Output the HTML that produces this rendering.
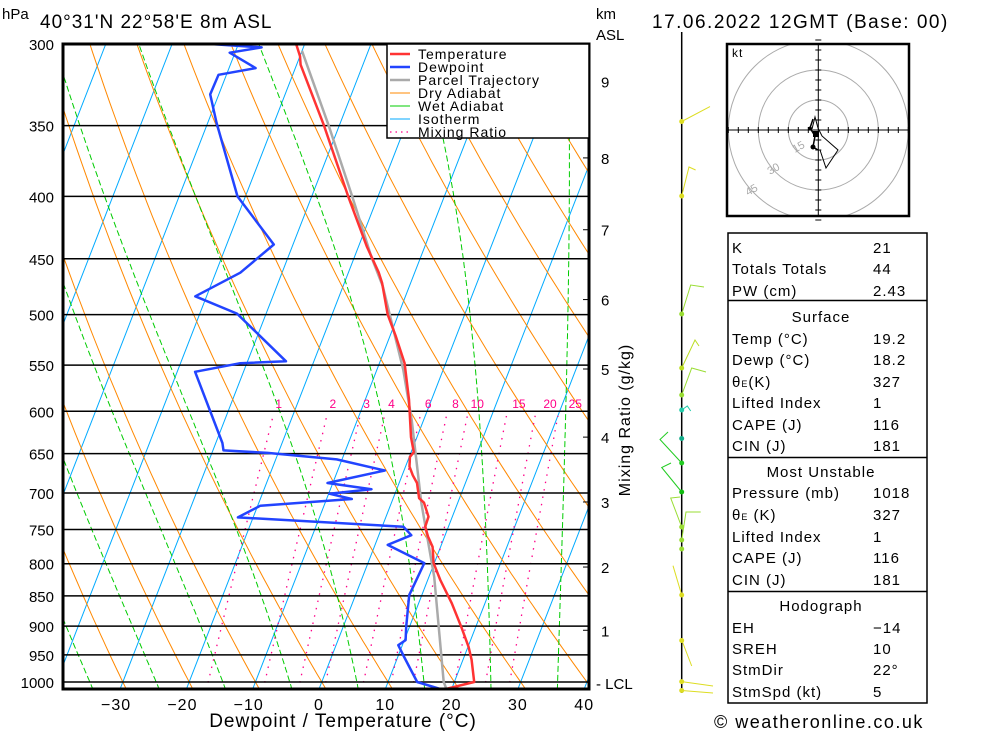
<!DOCTYPE html>
<html><head><meta charset="utf-8">
<style>
html,body{margin:0;padding:0;background:#fff;}
svg{display:block;font-family:"Liberation Sans",sans-serif;}
.t{font-size:15px;letter-spacing:1px;fill:#000;}
</style></head>
<body>
<svg id="chart" width="1000" height="733" viewBox="0 0 1000 733" xmlns="http://www.w3.org/2000/svg">
<defs><clipPath id="plotclip"><rect x="63" y="44" width="526" height="645"/></clipPath></defs>
<rect x="0" y="0" width="1000" height="733" fill="#fff"/>
<text x="2" y="19" font-size="15">hPa</text>
<text x="40" y="28" font-size="19" letter-spacing="1">40°31'N  22°58'E  8m  ASL</text>
<text x="652" y="28" font-size="19" letter-spacing="1.5">17.06.2022  12GMT  (Base:  00)</text>
<text x="596" y="19" font-size="15">km</text>
<text x="596" y="40" font-size="15">ASL</text>
<g id="grid" clip-path="url(#plotclip)"></g>
<g id="plines"></g>
<g id="series" clip-path="url(#plotclip)"></g>
<g id="labels"></g>
<rect x="63" y="44" width="526" height="645" fill="none" stroke="#000" stroke-width="3"/>
<text x="343" y="727" font-size="19" text-anchor="middle" letter-spacing="1">Dewpoint / Temperature (°C)</text>
<text transform="translate(630,420) rotate(-90)" font-size="16" text-anchor="middle" letter-spacing="1">Mixing Ratio (g/kg)</text>

<g>
<rect x="387" y="44" width="202" height="94" fill="#fff" stroke="#000" stroke-width="1.5"/>
<line x1="390" y1="54" x2="410" y2="54" stroke="#ff3333" stroke-width="2.5"/><text x="418" y="59" font-size="14" letter-spacing="1">Temperature</text>
<line x1="390" y1="67" x2="410" y2="67" stroke="#2244ff" stroke-width="2.5"/><text x="418" y="72" font-size="14" letter-spacing="1">Dewpoint</text>
<line x1="390" y1="80" x2="410" y2="80" stroke="#aaaaaa" stroke-width="2.5"/><text x="418" y="85" font-size="14" letter-spacing="1">Parcel Trajectory</text>
<line x1="390" y1="93" x2="410" y2="93" stroke="#ff8800" stroke-width="1"/><text x="418" y="98" font-size="14" letter-spacing="1">Dry Adiabat</text>
<line x1="390" y1="106" x2="410" y2="106" stroke="#00cc00" stroke-width="1"/><text x="418" y="111" font-size="14" letter-spacing="1">Wet Adiabat</text>
<line x1="390" y1="119" x2="410" y2="119" stroke="#00aaff" stroke-width="1"/><text x="418" y="124" font-size="14" letter-spacing="1">Isotherm</text>
<line x1="390" y1="132" x2="410" y2="132" stroke="#ff0088" stroke-width="1.2" stroke-dasharray="1.5,4"/><text x="418" y="137" font-size="14" letter-spacing="1">Mixing Ratio</text>
</g>

<g fill="none" stroke-width="1">
<line x1="681.7" y1="32" x2="681.7" y2="693" stroke="#000" stroke-width="1.5"/>
<polyline points="681.7,121.5 710,106.6" stroke="#dddd22"/>
<polyline points="681.7,196 689,167 695.6,170" stroke="#dddd22"/>
<polyline points="681.7,314 690.7,285 704,287" stroke="#99dd33"/>
<polyline points="681.7,368 695,340 699,346" stroke="#bbdd22"/>
<polyline points="681.7,395 691.7,368 706,372" stroke="#99dd33"/>
<polyline points="681.7,410 687.3,406 690.7,411" stroke="#22ccaa"/>
<polyline points="681.7,463 660,439.5 668,432" stroke="#22cc22"/>
<polyline points="681.7,492 661.7,467.5 671,463" stroke="#22cc22"/>
<polyline points="681.7,527 670.7,498 680,497" stroke="#99dd33"/>
<polyline points="681.7,540 686,512 700.7,512" stroke="#99dd33"/>
<polyline points="681.7,595 673,565.7" stroke="#dddd22"/>
<polyline points="681.7,640 691.7,666" stroke="#dddd22"/>
<polyline points="681.7,681.6 713,686" stroke="#dddd22"/>
<polyline points="681.7,690.5 713,693" stroke="#dddd22"/>
<g stroke="none">
<circle cx="681.7" cy="121.5" r="2.5" fill="#dddd22"/><circle cx="681.7" cy="196" r="2.5" fill="#dddd22"/>
<circle cx="681.7" cy="314" r="2.5" fill="#99dd33"/><circle cx="681.7" cy="368" r="2.5" fill="#bbdd22"/>
<circle cx="681.7" cy="395" r="2.5" fill="#99dd33"/><circle cx="681.7" cy="410" r="2.5" fill="#22ccaa"/>
<circle cx="681.7" cy="438.5" r="2.5" fill="#11aa88"/><circle cx="681.7" cy="463" r="2.5" fill="#22cc22"/>
<circle cx="681.7" cy="492" r="2.5" fill="#11bb11"/><circle cx="681.7" cy="527" r="2.5" fill="#99dd33"/>
<circle cx="681.7" cy="540" r="2.5" fill="#99dd33"/><circle cx="681.7" cy="549" r="2.5" fill="#99dd33"/>
<circle cx="681.7" cy="595" r="2.5" fill="#dddd22"/><circle cx="681.7" cy="640.5" r="2.5" fill="#dddd22"/>
<circle cx="681.7" cy="681.6" r="2.5" fill="#dddd22"/><circle cx="681.7" cy="690.5" r="2.5" fill="#dddd22"/>
</g></g>

<g>
<clipPath id="hodoclip"><rect x="727" y="44" width="182" height="172"/></clipPath>
<rect x="727" y="44" width="182" height="172" fill="#fff"/>
<g clip-path="url(#hodoclip)" fill="none" stroke="#aaa" stroke-width="1">
<circle cx="818.3" cy="130" r="30"/><circle cx="818.3" cy="130" r="60"/><circle cx="818.3" cy="130" r="90"/>
</g>
<g id="hodoticks" stroke="#000" stroke-width="1"></g>
<line x1="727" y1="130" x2="909" y2="130" stroke="#000"/>
<line x1="818.3" y1="44" x2="818.3" y2="216" stroke="#000"/>
<text x="795" y="153" font-size="11" fill="#aaa" transform="rotate(-30 795 153)">15</text>
<text x="770" y="175" font-size="11" fill="#aaa" transform="rotate(-30 770 175)">30</text>
<text x="748" y="196" font-size="11" fill="#aaa" transform="rotate(-30 748 196)">45</text>
<polyline points="813,119 810,128 815,136 813,147 818,150" fill="none" stroke="#000" stroke-width="1.5"/>
<polyline points="812,129 815,117 818,128 822,136 838,150 826,168 820,150" fill="none" stroke="#000" stroke-width="1"/>
<circle cx="813" cy="147" r="2.5" fill="#000"/><circle cx="810" cy="128.6" r="2" fill="#000"/>
<rect x="813" y="131" width="6" height="6" fill="#000"/>
<text x="732" y="57" font-size="12" letter-spacing="1">kt</text>
<rect x="727" y="44" width="182" height="172" fill="none" stroke="#000" stroke-width="2.5"/>
</g>

<g>
<rect x="728" y="233" width="199" height="470" fill="none" stroke="#000" stroke-width="1.5"/>
<line x1="728" y1="300.5" x2="927" y2="300.5" stroke="#000" stroke-width="1.5"/>
<line x1="728" y1="457.5" x2="927" y2="457.5" stroke="#000" stroke-width="1.5"/>
<line x1="728" y1="591.5" x2="927" y2="591.5" stroke="#000" stroke-width="1.5"/>
<text class="t" x="732" y="253">K</text><text class="t" x="873" y="253">21</text>
<text class="t" x="732" y="274">Totals Totals</text><text class="t" x="873" y="274">44</text>
<text class="t" x="732" y="296">PW (cm)</text><text class="t" x="873" y="296">2.43</text>
<text class="t" x="821" y="322" text-anchor="middle">Surface</text>
<text class="t" x="732" y="344">Temp (°C)</text><text class="t" x="873" y="344">19.2</text>
<text class="t" x="732" y="365">Dewp (°C)</text><text class="t" x="873" y="365">18.2</text>
<text class="t" x="732" y="387">θ<tspan font-size="9">E</tspan>(K)</text><text class="t" x="873" y="387">327</text>
<text class="t" x="732" y="408">Lifted Index</text><text class="t" x="873" y="408">1</text>
<text class="t" x="732" y="430">CAPE (J)</text><text class="t" x="873" y="430">116</text>
<text class="t" x="732" y="451">CIN (J)</text><text class="t" x="873" y="451">181</text>
<text class="t" x="821" y="477" text-anchor="middle">Most Unstable</text>
<text class="t" x="732" y="498">Pressure (mb)</text><text class="t" x="873" y="498">1018</text>
<text class="t" x="732" y="520">θ<tspan font-size="9">E</tspan> (K)</text><text class="t" x="873" y="520">327</text>
<text class="t" x="732" y="542">Lifted Index</text><text class="t" x="873" y="542">1</text>
<text class="t" x="732" y="563">CAPE (J)</text><text class="t" x="873" y="563">116</text>
<text class="t" x="732" y="585">CIN (J)</text><text class="t" x="873" y="585">181</text>
<text class="t" x="821" y="611" text-anchor="middle">Hodograph</text>
<text class="t" x="732" y="633">EH</text><text class="t" x="873" y="633">−14</text>
<text class="t" x="732" y="654">SREH</text><text class="t" x="873" y="654">10</text>
<text class="t" x="732" y="675">StmDir</text><text class="t" x="873" y="675">22°</text>
<text class="t" x="732" y="697">StmSpd (kt)</text><text class="t" x="873" y="697">5</text>
</g>
<text x="714" y="728" font-size="18" letter-spacing="1.5">© weatheronline.co.uk</text>

<script>
// ---- data ----
const tempP = [1013,1000,959,936,901,862,825,799,775,760,746,732,713,707,687,677,666,654,648,630,587,548,520,500,471,462,440,400,350,312,307,300];
const tempT = [19.2,23.0,21.3,20.1,17.8,15.0,11.9,9.9,8.8,7.5,6.5,6.4,4.9,3.9,2.7,1.6,0.6,0.1,0.4,-0.9,-3.4,-6.2,-9.2,-11.6,-14.3,-15.4,-18.7,-24.5,-32.3,-39.4,-40.0,-41.3];
const dewP = [1013,1000,953,933,924,901,849,799,772,758,746,733,717,708,701,695,687,671,657,649,646,637,557,548,546,499,483,462,438,400,348,330,318,314,305,302,300];
const dewT = [18.2,14.4,10.9,9.4,10.2,9.5,8.1,8.5,1.9,4.9,3.2,-22.3,-19.6,-6.2,-9.9,-3.8,-10.8,-2.9,-10.8,-21.6,-28.4,-29.0,-37.3,-31.0,-24.2,-34.4,-41.7,-36.3,-32.9,-41.2,-48.7,-51.3,-51.2,-46.0,-50.8,-46.3,-54.5];
const parcelP = [1013,1000,820,713,610,555,474,448,400,350,304];
const parcelT = [19.2,18.4,10.8,4.5,-1.8,-6.0,-14.0,-17.5,-23.9,-31.6,-40.0];
const pressureTicks = [300,350,400,450,500,550,600,650,700,750,800,850,900,950,1000];
const tempTicks = [-30,-20,-10,0,10,20,30,40];
const mixRatios = [1,2,3,4,6,8,10,15,20,25];
const kmLabels = ['9','8','7','6','5','4','3','2','1'];
const kmPressures = [322,372,426,486,554,630,712,805,907];

// ---- axes ----
const NS = 'http://www.w3.org/2000/svg';
function yP(p){ return 682 - 530*Math.log(1000/p); }
function xT(t,y){ return 319 + 6.63*t + 0.389*(689 - y); }
function mk(tag, attrs, parent){
  const e = document.createElementNS(NS, tag);
  for (const k in attrs) e.setAttribute(k, attrs[k]);
  parent.appendChild(e); return e;
}
const grid = document.getElementById('grid');
const plines = document.getElementById('plines');
const series = document.getElementById('series');
const labels = document.getElementById('labels');

// isotherms
for (let t=-130; t<=40; t+=10){
  const l = mk('line',{x1:xT(t,689),y1:689,x2:xT(t,44),y2:44,stroke:'#00aaff','stroke-width':1}, grid);
  
  
}
// dry adiabats
for (let th=-40; th<=200; th+=10){
  const pts=[];
  for (let p=1015; p>=295; p-=10){
    const T=(th+273.15)*Math.pow(p/1000,0.2857)-273.15;
    const y=yP(p); pts.push(xT(T,y).toFixed(1)+','+y.toFixed(1));
  }
  const l = mk('polyline',{points:pts.join(' '),fill:'none',stroke:'#ff8800','stroke-width':1}, grid);
  
  
}
// moist adiabats
function es(T){ return 6.112*Math.exp(17.67*T/(T+243.5)); }
for (let t0=-34; t0<=36; t0+=10){
  let T=t0+273.15, pts=[];
  for (let p=1015; p>=295; p-=2.5){
    const Tc=T-273.15, e=es(Tc), rs=0.622*e/(p-e);
    const y=yP(p); pts.push(xT(Tc,y).toFixed(1)+','+y.toFixed(1));
    const dTdp=(287*T+2.5e6*rs)/(p*(1004+2.5e6*2.5e6*rs*0.622/(287*T*T)));
    T -= dTdp*2.5;
  }
  const l = mk('polyline',{points:pts.join(' '),fill:'none',stroke:'#00cc00','stroke-width':1,'stroke-dasharray':'6,3'}, grid);
  
  
}
// mixing ratio lines
mixRatios.forEach(w=>{
  const pts=[];
  for (let p=1015; p>=600; p-=10){
    const e=w*p/(622+w), a=Math.log(e/6.112), Td=243.5*a/(17.67-a);
    const y=yP(p); pts.push(xT(Td,y).toFixed(1)+','+y.toFixed(1));
  }
  const l = mk('polyline',{points:pts.join(' '),fill:'none',stroke:'#ff0088','stroke-width':1.3,'stroke-dasharray':'1.5,6'}, grid);
  
  
  const e6=w*600/(622+w), a6=Math.log(e6/6.112), Td6=243.5*a6/(17.67-a6);
  const tx = mk('text',{x:xT(Td6,yP(600))+4+w*0.5,y:408,'font-size':12,fill:'#ff0088','text-anchor':'middle'}, labels);
  tx.textContent = String(w);
  
  
});
// pressure lines & labels
pressureTicks.forEach(p=>{
  const y=yP(p);
  const l = mk('line',{x1:63,y1:y,x2:589,y2:y,stroke:'#000','stroke-width':1.5}, plines);
  
  
  const t = mk('text',{x:54,y:y+6,'font-size':15,'text-anchor':'end'}, labels);
  t.textContent = String(p);
  
  
});
// temperature tick labels
tempTicks.forEach(t=>{
  const tx = mk('text',{x:319+6.63*t - (t<0?4:0),y:710,'font-size':16,'text-anchor':'middle','letter-spacing':1}, labels);
  tx.textContent = (t<0?'\u2212':'')+Math.abs(t);
  
  
});
// km labels
kmLabels.forEach((k,i)=>{
  const y=yP(kmPressures[i]);
  const tk = mk('line',{x1:583,y1:y,x2:589,y2:y,stroke:'#000','stroke-width':1}, labels);
  
  
  const tx = mk('text',{x:601,y:y+6,'font-size':15}, labels);
  tx.textContent = k;
  
  
});
const lcl = mk('text',{x:596,y:689,'font-size':15}, labels);
lcl.textContent = '- LCL';



// series
function drawSeries(P,T,color,w,name){
  const pts=P.map((p,i)=>{const y=yP(p); return xT(T[i],y).toFixed(1)+','+y.toFixed(1);});
  const l = mk('polyline',{points:pts.join(' '),fill:'none',stroke:color,'stroke-width':w,'stroke-linejoin':'round'}, series);
  
  
}
drawSeries(parcelP,parcelT,'#aaaaaa',2.5,'parcel-trajectory-line');
drawSeries(dewP,dewT,'#2244ff',2.5,'dewpoint-line');
drawSeries(tempP,tempT,'#ff3333',2.5,'temperature-line');

// hodograph ticks
const ht = document.getElementById('hodoticks');
for (let k=-9;k<=9;k++){
  if(k===0) continue;
  const a = mk('line',{x1:818.3+k*10,y1:127,x2:818.3+k*10,y2:133}, ht);
  
  
  const b = mk('line',{x1:815.3,y1:130+k*10,x2:821.3,y2:130+k*10}, ht);
  
  
}
</script>
</svg>
</body></html>
